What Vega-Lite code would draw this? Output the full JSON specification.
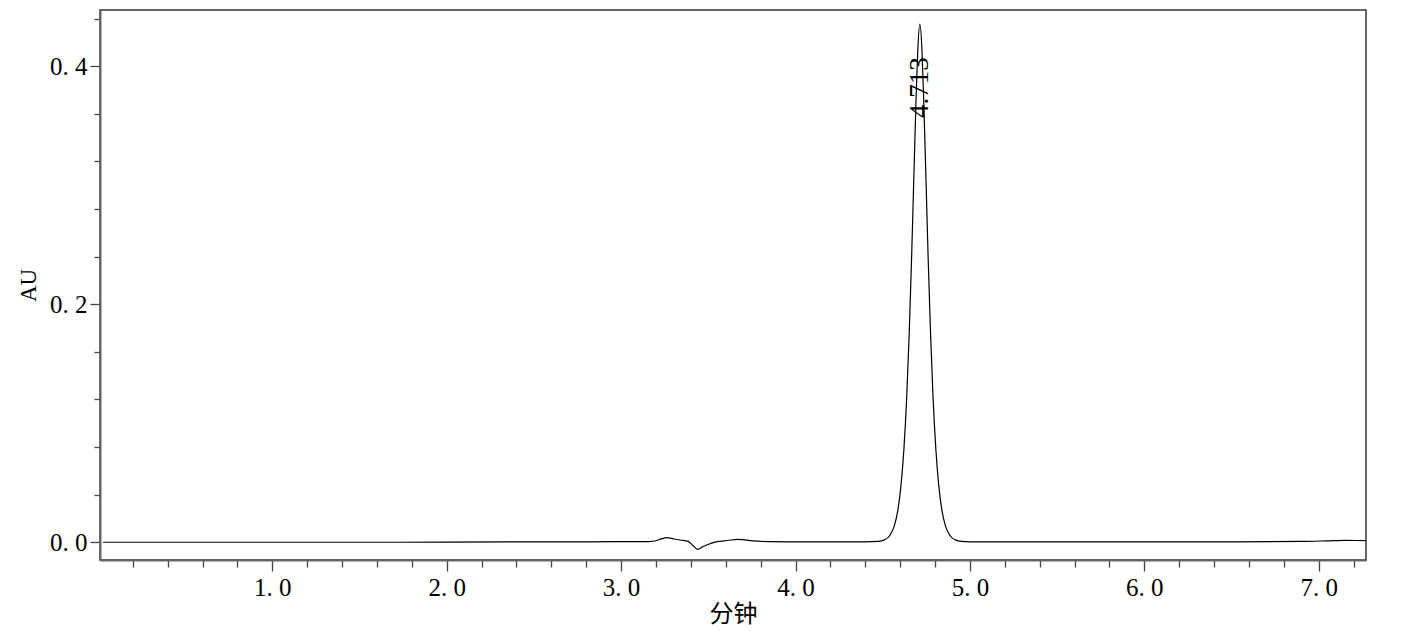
{
  "$schema": "https://vega.github.io/schema/vega-lite/v6.json",
  "autosize": {"type": "none"},
  "width": 1266,
  "height": 550,
  "padding": {"left": 100, "top": 10, "right": 41, "bottom": 71},
  "background": "white",
  "config": {
    "view": {"stroke": "#333333", "strokeWidth": 1.5},
    "axis": {
      "labelFont": "Liberation Serif",
      "labelFontSize": 25,
      "labelColor": "#000000",
      "titleFont": "Liberation Serif",
      "titleFontSize": 23,
      "titleFontWeight": "normal",
      "titleColor": "#000000",
      "domainColor": "#666666",
      "domainWidth": 2,
      "tickColor": "#444444",
      "tickWidth": 1.3,
      "grid": false
    }
  },
  "datasets": {
    "trace": [
      {"t": 0.03, "au": 0.0},
      {"t": 0.5, "au": 0.0},
      {"t": 1.0, "au": 0.0},
      {"t": 1.5, "au": 0.0},
      {"t": 2.0, "au": 0.0001},
      {"t": 2.4, "au": 0.0003},
      {"t": 2.8, "au": 0.0004},
      {"t": 3.0, "au": 0.0005},
      {"t": 3.16, "au": 0.0006},
      {"t": 3.20, "au": 0.0013},
      {"t": 3.23, "au": 0.0028},
      {"t": 3.263, "au": 0.0039},
      {"t": 3.30, "au": 0.0029},
      {"t": 3.338, "au": 0.0019},
      {"t": 3.384, "au": 0.0008},
      {"t": 3.41, "au": -0.0025},
      {"t": 3.439, "au": -0.0059},
      {"t": 3.47, "au": -0.0035},
      {"t": 3.51, "au": -0.0012},
      {"t": 3.548, "au": 0.0005},
      {"t": 3.61, "au": 0.0015},
      {"t": 3.67, "au": 0.0025},
      {"t": 3.756, "au": 0.0011},
      {"t": 3.854, "au": 0.0005},
      {"t": 4.0, "au": 0.0003},
      {"t": 4.2, "au": 0.0003},
      {"t": 4.4, "au": 0.0003},
      {"t": 4.4741, "au": 0.0007},
      {"t": 4.5098, "au": 0.002},
      {"t": 4.5395, "au": 0.0055},
      {"t": 4.5654, "au": 0.0134},
      {"t": 4.5861, "au": 0.0264},
      {"t": 4.6051, "au": 0.0482},
      {"t": 4.6216, "au": 0.0787},
      {"t": 4.6376, "au": 0.1222},
      {"t": 4.6516, "au": 0.1745},
      {"t": 4.6657, "au": 0.2398},
      {"t": 4.6781, "au": 0.3052},
      {"t": 4.6907, "au": 0.3705},
      {"t": 4.7011, "au": 0.414},
      {"t": 4.713, "au": 0.4355},
      {"t": 4.7249, "au": 0.414},
      {"t": 4.7353, "au": 0.3705},
      {"t": 4.7479, "au": 0.3052},
      {"t": 4.7603, "au": 0.2398},
      {"t": 4.7744, "au": 0.1745},
      {"t": 4.7884, "au": 0.1222},
      {"t": 4.8044, "au": 0.0787},
      {"t": 4.8209, "au": 0.0482},
      {"t": 4.8399, "au": 0.0264},
      {"t": 4.8606, "au": 0.0134},
      {"t": 4.8865, "au": 0.0055},
      {"t": 4.9162, "au": 0.002},
      {"t": 4.952, "au": 0.0007},
      {"t": 5.0, "au": 0.0004},
      {"t": 5.5, "au": 0.0003},
      {"t": 6.0, "au": 0.0003},
      {"t": 6.5, "au": 0.0004},
      {"t": 6.9, "au": 0.0007},
      {"t": 7.05, "au": 0.0012},
      {"t": 7.15, "au": 0.0016},
      {"t": 7.22, "au": 0.0015},
      {"t": 7.27, "au": 0.0013}
    ],
    "peaks": [
      {"t": 4.713, "au": 0.382, "label": "4.713"}
    ]
  },
  "encoding": {
    "x": {
      "field": "t",
      "type": "quantitative",
      "scale": {"domain": [0.012, 7.271], "nice": false, "zero": false},
      "axis": {
        "title": "分钟",
        "titleFont": "Noto Sans CJK SC",
        "titleFontSize": 24,
        "titlePadding": 2,
        "values": [0.2, 0.4, 0.6, 0.8, 1.0, 1.2, 1.4, 1.6, 1.8, 2.0, 2.2, 2.4, 2.6, 2.8, 3.0, 3.2, 3.4, 3.6, 3.8, 4.0, 4.2, 4.4, 4.6, 4.8, 5.0, 5.2, 5.4, 5.6, 5.8, 6.0, 6.2, 6.4, 6.6, 6.8, 7.0, 7.2],
        "labelExpr": "abs(datum.value - round(datum.value)) < 0.001 ? replace(format(datum.value, '.1f'), '.', '. ') : ''",
        "labelOverlap": false,
        "labelPadding": 4,
        "tickSize": {"condition": {"test": "abs(datum.value - round(datum.value)) < 0.001", "value": 11}, "value": 7}
      }
    },
    "y": {
      "field": "au",
      "type": "quantitative",
      "scale": {"domain": [-0.0149, 0.4473], "nice": false, "zero": false},
      "axis": {
        "title": "AU",
        "titlePadding": 9,
        "values": [0, 0.04, 0.08, 0.12, 0.16, 0.2, 0.24, 0.28, 0.32, 0.36, 0.4, 0.44],
        "labelExpr": "abs(datum.value * 5 - round(datum.value * 5)) < 0.001 ? replace(format(datum.value, '.1f'), '.', '. ') : ''",
        "labelOverlap": false,
        "labelPadding": 3,
        "tickSize": {"condition": {"test": "abs(datum.value * 5 - round(datum.value * 5)) < 0.001", "value": 10}, "value": 6}
      }
    }
  },
  "layer": [
    {
      "data": {"name": "trace"},
      "mark": {"type": "line", "color": "#000000", "strokeWidth": 1.2, "interpolate": "monotone"}
    },
    {
      "data": {"name": "peaks"},
      "mark": {"type": "text", "angle": 270, "align": "center", "baseline": "middle", "font": "Liberation Serif", "fontSize": 27, "color": "#000000"},
      "encoding": {"text": {"field": "label", "type": "nominal"}}
    }
  ]
}
